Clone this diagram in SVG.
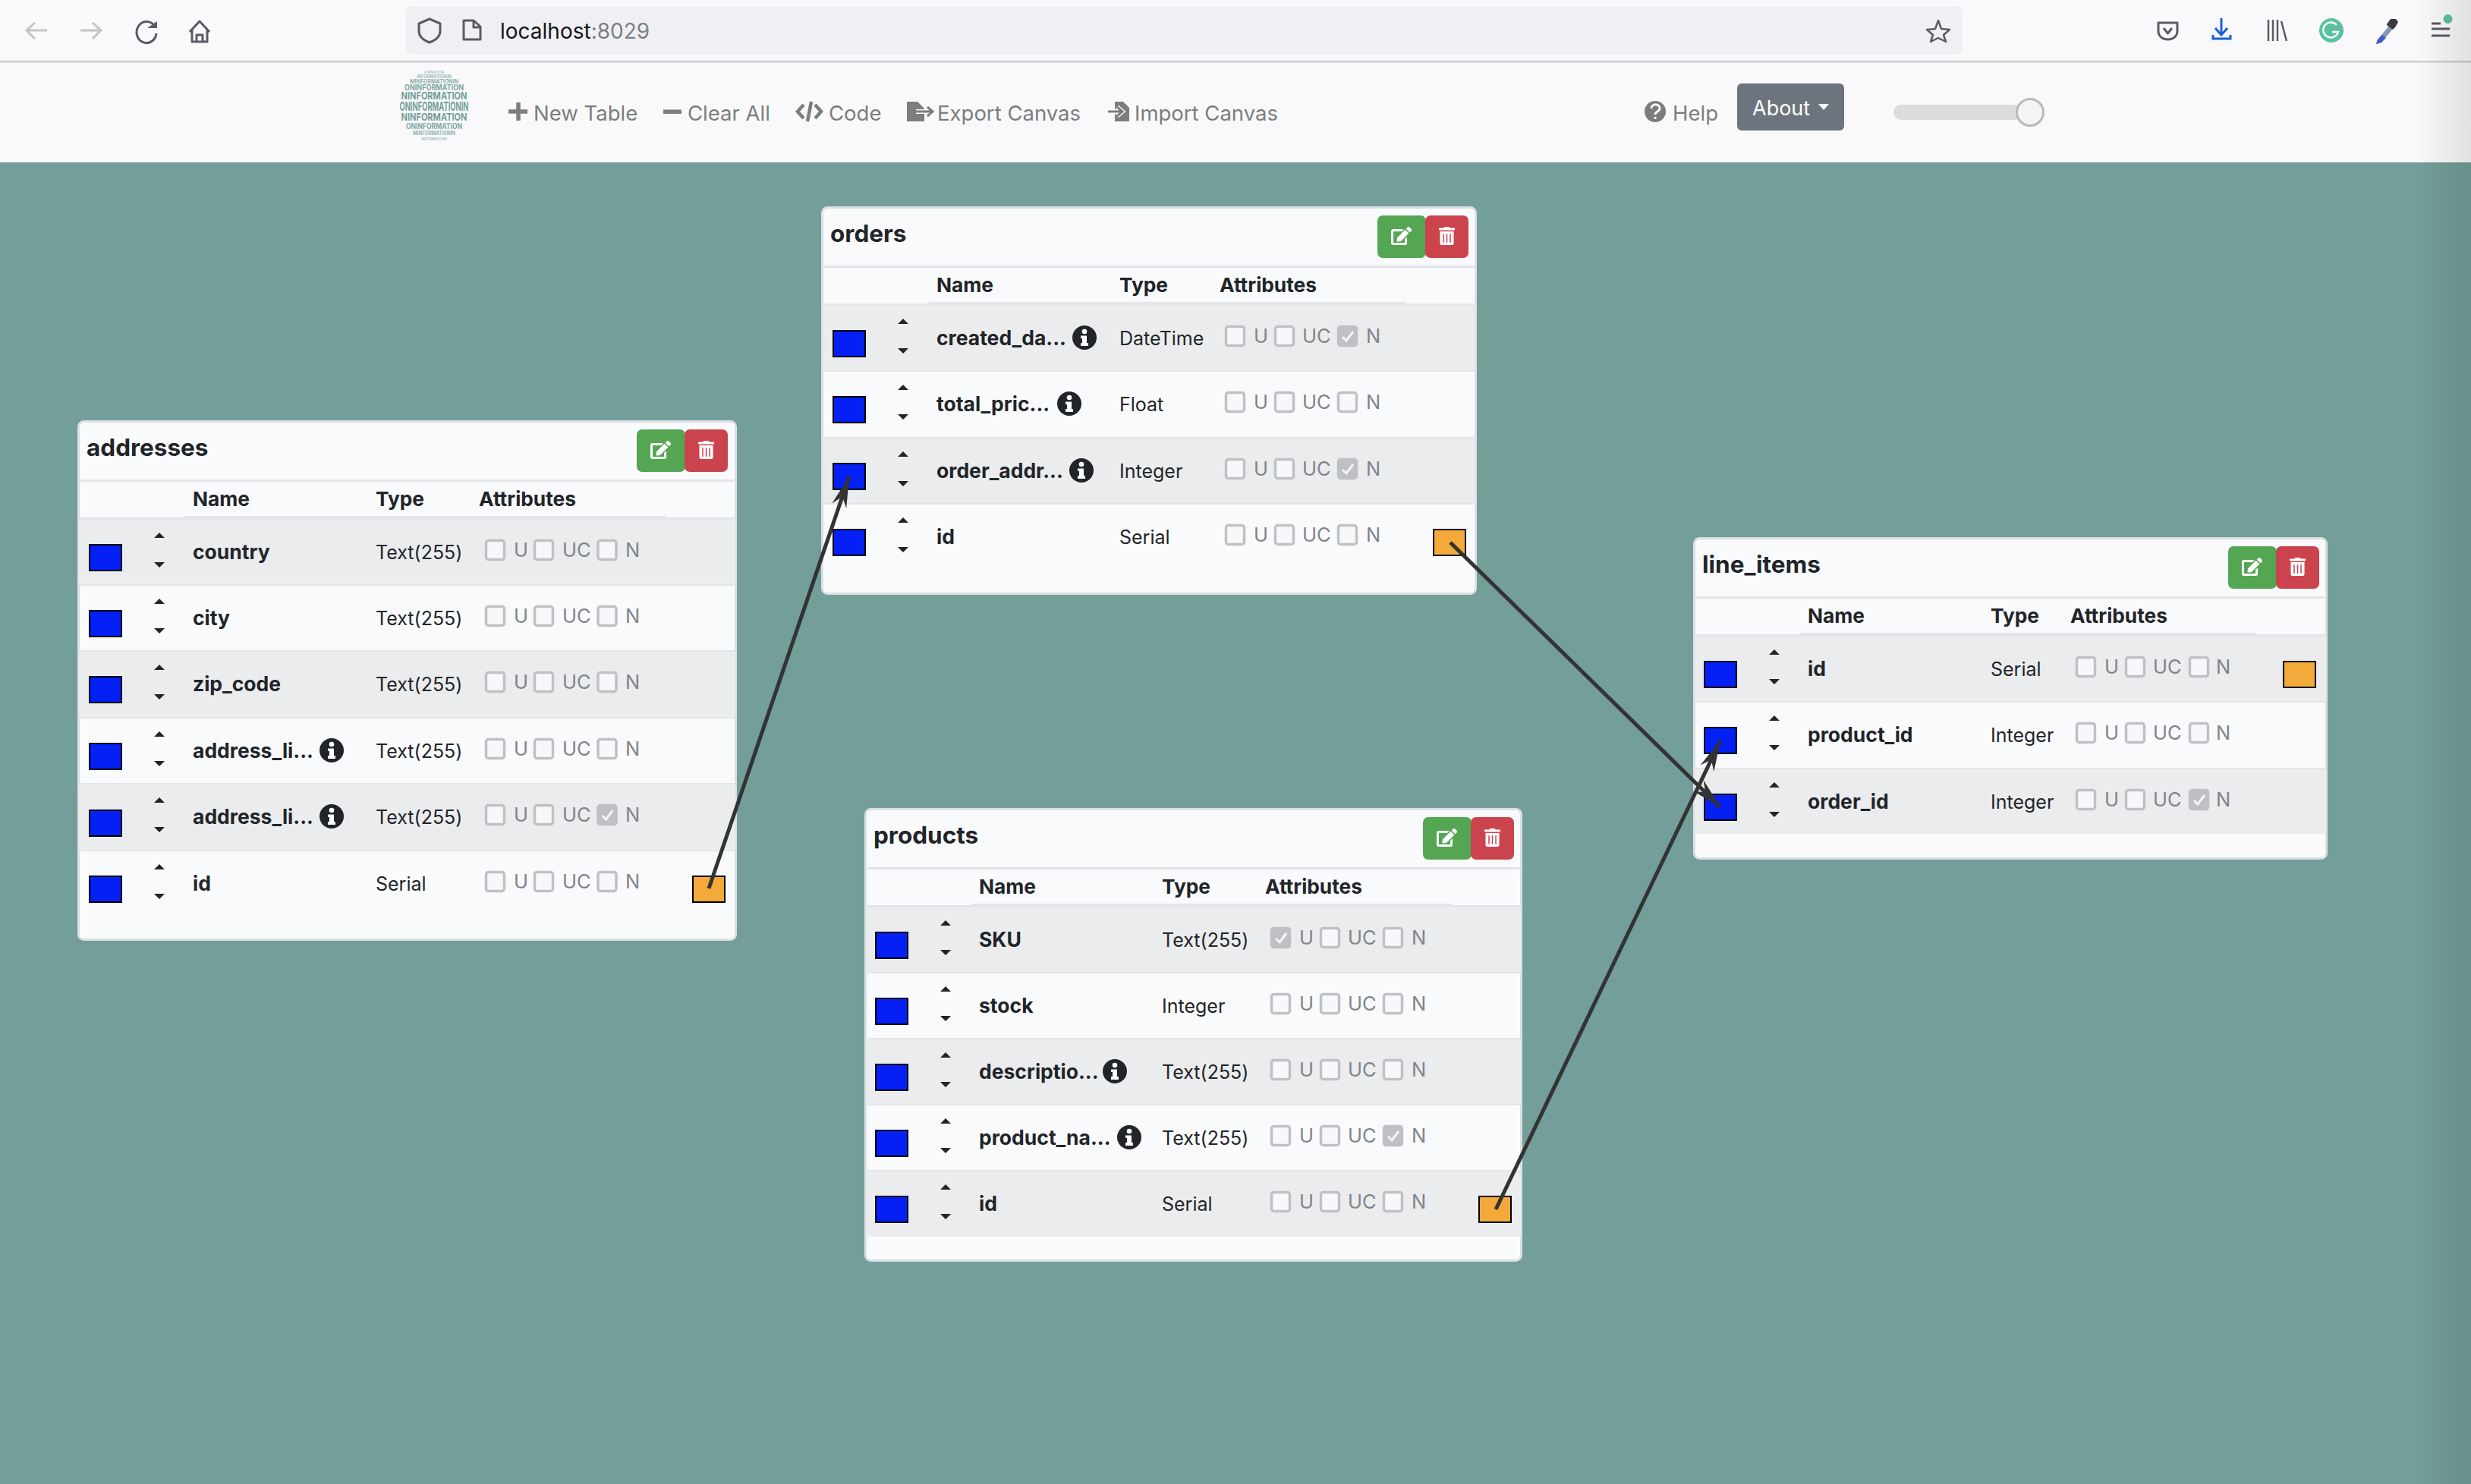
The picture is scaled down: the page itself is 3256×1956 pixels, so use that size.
<svg xmlns="http://www.w3.org/2000/svg" width="3256" height="1956" viewBox="0 0 3256 1956">
<style>
text{font-family:"Inter","Liberation Sans",sans-serif}
.title{font-size:31.500px;font-weight:700;fill:#212529}
.h{font-size:26.300px;font-weight:700;fill:#212529}
.n{font-size:26.500px;font-weight:700;fill:#212529}
.ty{font-size:25px;font-weight:400;fill:#212529}
.a{font-size:25.500px;fill:#7f858b}
.nav{font-size:27.500px;fill:#7c7d7e}
.card{fill:#f9fafc;stroke:#dcdfe3;stroke-width:3}
.st{fill:#ebecee}
.rl{fill:#e3e5ea}
.chr{fill:none;stroke:#5b5b66;stroke-width:3;stroke-linejoin:round}
.conn{stroke:#333;stroke-width:5;fill:none;marker-end:url(#arr)}
.cb{fill:#f7f8f9;stroke:#c0c1c6;stroke-width:3.500}
.lg{font-family:"Liberation Sans",sans-serif;font-weight:700;fill:#739e99}
</style>
<defs>
<marker id="arr" markerUnits="userSpaceOnUse" markerWidth="44" markerHeight="26" viewBox="-42 -13 44 26" refX="0" refY="0" orient="auto"><path d="M0,0 L-41,-10 L-28,0 L-41,10 Z" fill="#333"/></marker>
<g id="blue"><rect x="1" y="1" width="42" height="34" fill="#0420f5" stroke="#000" stroke-width="2"/></g>
<g id="orange"><rect x="1" y="1" width="42" height="34" fill="#f4a93b" stroke="#000" stroke-width="2"/></g>
<g id="carets"><path d="M-7,26 L0,19 L7,26 Z M-7,58 L7,58 L0,65 Z" fill="#212529"/></g>
<g id="info"><circle r="16" fill="#212529"/><path d="M-3.300,-8 a3.300,3.300 0 1 1 6.600,0 a3.300,3.300 0 1 1 -6.600,0Z M-5,-2.500 H3 V7 H5 V11 H-5 V7 H-3 V1 H-5Z" fill="#fff"/></g>
<g id="cb"><rect x="1.500" y="1.500" width="24" height="25" rx="3" class="cb"/></g>
<g id="cbc"><rect x="1.500" y="1.500" width="24" height="25" rx="3" fill="#bfc0c4" stroke="#bfc0c4" stroke-width="3.500"/><path d="M7,15 L12,20 L21,8" fill="none" stroke="#f4f5f6" stroke-width="3"/></g>
<g id="btns"><rect width="64" height="56" rx="7" fill="#54a653"/><rect x="63" width="57" height="56" rx="7" fill="#cb444d"/>
<path transform="translate(18,15) scale(.047)" fill="#fff" d="M402.6 83.2l90.2 90.2c3.8 3.8 3.8 10 0 13.8L274.4 405.6l-92.8 10.3c-12.4 1.4-22.9-9.1-21.5-21.5l10.3-92.8L388.8 83.2c3.8-3.8 10-3.8 13.8 0zm162-22.9l-48.8-48.8c-15.2-15.2-39.9-15.2-55.2 0l-35.4 35.4c-3.8 3.8-3.8 10 0 13.8l90.2 90.2c3.8 3.8 10 3.8 13.8 0l35.4-35.4c15.2-15.3 15.2-40 0-55.2zM384 346.2V448H64V128h229.8c3.2 0 6.2-1.3 8.5-3.5l40-40c7.6-7.6 2.2-20.5-8.5-20.5H48C21.5 64 0 85.5 0 112v352c0 26.5 21.5 48 48 48h352c26.5 0 48-21.5 48-48V306.2c0-10.7-12.9-16-20.5-8.5l-40 40c-2.2 2.3-3.5 5.3-3.5 8.5z"/>
<path transform="translate(81,15) scale(.047)" fill="#fff" d="M32 464a48 48 0 0 0 48 48h288a48 48 0 0 0 48-48V128H32zm272-256a16 16 0 0 1 32 0v224a16 16 0 0 1-32 0zm-96 0a16 16 0 0 1 32 0v224a16 16 0 0 1-32 0zm-96 0a16 16 0 0 1 32 0v224a16 16 0 0 1-32 0zM432 32H312l-9.4-18.7A24 24 0 0 0 281.1 0H166.8a23.72 23.72 0 0 0-21.4 13.3L136 32H16A16 16 0 0 0 0 48v32a16 16 0 0 0 16 16h416a16 16 0 0 0 16-16V48a16 16 0 0 0-16-16z"/></g>
<linearGradient id="edge" x1="0" x2="1" y1="0" y2="0"><stop offset="0" stop-color="#000" stop-opacity="0"/><stop offset="1" stop-color="#000" stop-opacity=".1"/></linearGradient>
</defs>

<rect width="3256" height="1956" fill="#739e99"/>
<g id="browser-chrome">
<rect width="3256" height="214" fill="#f9f9fb"/>
<rect y="80" width="3256" height="2.500" fill="#cfcfd2"/>
<rect x="535" y="8" width="2051" height="64" rx="8" fill="#f0f0f4"/>
<path d="M62,40 H36 M46,30 L35,40 L46,51" fill="none" stroke="#c4c4c8" stroke-width="3"/>
<path d="M106,40 H132 M122,30 L133,40 L122,51" fill="none" stroke="#c4c4c8" stroke-width="3"/>
<path d="M204,35 A13,14 0 1 0 206,44" class="chr"/><path d="M194,37 L207,37 L207,28 Z" fill="#5b5b66"/>
<path d="M250,42 L263,28 L276,42 M253,39 V55 H273 V39 M259,55 V46 H267 V55" class="chr"/>
<path d="M566,25 L580,31 V41 C580,48 574,53 566,56 C558,53 552,48 552,41 V31 Z" class="chr"/>
<path d="M611,27 H624 L633,35 V52 H611 Z M624,27 V36 H633" class="chr"/>
<text x="659" y="51" font-size="28" fill="#15141a">localhost<tspan fill="#7e7e84">:8029</tspan></text>
<path d="M2554,27 L2558,38 L2569,39 L2561,46 L2564,55 L2554,50 L2544,55 L2547,46 L2539,39 L2550,38 Z" fill="none" stroke="#5b5b66" stroke-width="2.500" stroke-linejoin="round"/>
<path d="M2844,30 H2869 V41 C2869,48 2863,52 2856.500,52 C2850,52 2844,48 2844,41 Z M2851,37 L2856.500,44 L2862,37" class="chr"/>
<path d="M2927,24 V46 M2919,37 L2927,46 L2935,37 M2916,46 V51 H2939 V46" fill="none" stroke="#1a5fd8" stroke-width="3"/>
<path d="M2989,26 V54 M2995,26 V54 M3001,26 V54 M3006,28 L3013,54" fill="none" stroke="#5b5b66" stroke-width="2.500"/>
<circle cx="3072" cy="40" r="16" fill="#5bc19f"/><path d="M3079,33 A10,10 0 1 0 3081,42 H3073" fill="none" stroke="#fff" stroke-width="2.500"/>
<path d="M3133,52 L3148,34 L3153,38 L3138,56 L3131,58 Z" fill="#8a93b8"/><path d="M3131,58 L3133,52 L3139,46 L3144,50 L3138,56 Z" fill="#3f5cc8"/><path d="M3145,32 L3150,25 L3157,25 L3160,29 L3156,36 L3153,39 L3145,33 Z" fill="#3a3a3e"/>
<path d="M3204,31 H3216 M3204,38 H3228 M3204,47 H3228" fill="none" stroke="#5b5b66" stroke-width="3"/><circle cx="3225.500" cy="25" r="6" fill="#5bc19f"/>
</g>
<rect x="3186" y="0" width="70" height="1956" fill="url(#edge)"/>
<g id="navbar">
<g id="logo" class="lg" text-anchor="middle">
<text x="572" y="97" font-size="4.500" textLength="26" lengthAdjust="spacingAndGlyphs" opacity=".55">FORMATION</text>
<text x="572" y="102.500" font-size="5.500" textLength="46" lengthAdjust="spacingAndGlyphs" opacity=".65">INFORMATIONIN</text>
<text x="572" y="109.500" font-size="7.500" textLength="64" lengthAdjust="spacingAndGlyphs" opacity=".8">MINFORMATIONIN</text>
<text x="572" y="119" font-size="10" textLength="78" lengthAdjust="spacingAndGlyphs" opacity=".9">ONINFORMATION</text>
<text x="572" y="131" font-size="13.500" textLength="87" lengthAdjust="spacingAndGlyphs">NINFORMATION</text>
<text x="572" y="145.500" font-size="16.500" textLength="91" lengthAdjust="spacingAndGlyphs">ONINFORMATIONIN</text>
<text x="572" y="159" font-size="13.500" textLength="87" lengthAdjust="spacingAndGlyphs">NINFORMATION</text>
<text x="572" y="170" font-size="10" textLength="74" lengthAdjust="spacingAndGlyphs" opacity=".9">ONINFORMATION</text>
<text x="572" y="178" font-size="7" textLength="56" lengthAdjust="spacingAndGlyphs" opacity=".75">MINFORMATIONIN</text>
<text x="572" y="184.500" font-size="5" textLength="34" lengthAdjust="spacingAndGlyphs" opacity=".6">INFORMATION</text>
</g>
<path d="M683,135 V159 M670,147 H695" stroke="#7c7d7e" stroke-width="5.500" fill="none"/>
<text x="703" y="158.500" class="nav">New Table</text>
<rect x="874" y="144.500" width="24" height="5.500" fill="#7c7d7e"/>
<text x="906" y="158.500" class="nav">Clear All</text>
<path d="M1059,138 L1051,147 L1059,156 M1074,138 L1082,147 L1074,156 M1069,134 L1064,160" fill="none" stroke="#7c7d7e" stroke-width="4.500"/>
<text x="1092" y="158.500" class="nav">Code</text>
<path d="M1195,134 H1209 L1218,143 V160 H1195 Z" fill="#7c7d7e"/><path d="M1207,147 H1228 M1222,141 L1229,147 L1222,153" fill="none" stroke="#f9f9fb" stroke-width="6"/><path d="M1207,147 H1228 M1222,141 L1229,147 L1222,153" fill="none" stroke="#7c7d7e" stroke-width="3"/>
<text x="1235" y="158.500" class="nav">Export Canvas</text>
<path d="M1469,134 H1480 L1488,142 V160 H1469 Z" fill="#7c7d7e"/><path d="M1460,147 H1478 M1472,141 L1479,147 L1472,153" fill="none" stroke="#f9f9fb" stroke-width="6"/><path d="M1460,147 H1478 M1472,141 L1479,147 L1472,153" fill="none" stroke="#7c7d7e" stroke-width="3"/>
<text x="1495" y="158.500" class="nav">Import Canvas</text>
<circle cx="2181" cy="147" r="14" fill="#7c7d7e"/><path d="M2176,143 C2176,136 2187,136 2187,143 C2187,147 2181,147 2181,151 M2181,154 V157" fill="none" stroke="#f9f9fb" stroke-width="3"/>
<text x="2204" y="158.500" class="nav">Help</text>
<g id="about"><rect x="2289" y="110" width="141" height="62" rx="6" fill="#6c757d"/><text x="2309" y="152" font-size="27" fill="#fff">About</text><path d="M2396,137 H2410 L2403,145 Z" fill="#fff"/></g>
<g id="slider"><rect x="2495" y="138" width="170" height="20" rx="10" fill="#dcdcdc"/><circle cx="2675" cy="148" r="17.500" fill="#f3f4f3" stroke="#b9b9b9" stroke-width="3"/></g>
</g>

<g id="table-addresses" transform="translate(102,554)">
<rect x="1.500" y="1.500" width="866" height="683" rx="7" class="card"/>
<text x="12" y="47" class="title">addresses</text>
<use href="#btns" x="737" y="12"/>
<rect x="2" y="78" width="865" height="3" class="rl"/>
<text x="152" y="113" class="h">Name</text><text x="393" y="113" class="h">Type</text><text x="529" y="113" class="h">Attributes</text>
<rect x="2" y="128" width="865" height="3" class="rl"/><rect x="142" y="126" width="633" height="4" class="rl"/>
<g transform="translate(0,129)"><rect x="2" y="2" width="865" height="85.500" class="st"/><use href="#blue" x="15" y="34"/><use href="#carets" x="108"/><text x="152" y="53.500" class="n">country</text><text x="393" y="53.500" class="ty">Text(255)</text><g transform="translate(537,28)"><use href="#cb"/><text x="38" y="23" class="a">U</text><use href="#cb" x="64"/><text x="102" y="23" class="a">UC</text><use href="#cb" x="147.500"/><text x="185" y="23" class="a">N</text></g></g>
<g transform="translate(0,216)"><rect x="2" width="865" height="2" class="rl"/><use href="#blue" x="15" y="34"/><use href="#carets" x="108"/><text x="152" y="53.500" class="n">city</text><text x="393" y="53.500" class="ty">Text(255)</text><g transform="translate(537,28)"><use href="#cb"/><text x="38" y="23" class="a">U</text><use href="#cb" x="64"/><text x="102" y="23" class="a">UC</text><use href="#cb" x="147.500"/><text x="185" y="23" class="a">N</text></g></g>
<g transform="translate(0,303)"><rect x="2" y="0" width="865" height="87.500" class="st"/><rect x="2" width="865" height="2" class="rl"/><use href="#blue" x="15" y="34"/><use href="#carets" x="108"/><text x="152" y="53.500" class="n">zip_code</text><text x="393" y="53.500" class="ty">Text(255)</text><g transform="translate(537,28)"><use href="#cb"/><text x="38" y="23" class="a">U</text><use href="#cb" x="64"/><text x="102" y="23" class="a">UC</text><use href="#cb" x="147.500"/><text x="185" y="23" class="a">N</text></g></g>
<g transform="translate(0,391)"><rect x="2" width="865" height="2" class="rl"/><use href="#blue" x="15" y="34"/><use href="#carets" x="108"/><text x="152" y="53.500" class="n">address_li...</text><use href="#info" x="335" y="44"/><text x="393" y="53.500" class="ty">Text(255)</text><g transform="translate(537,28)"><use href="#cb"/><text x="38" y="23" class="a">U</text><use href="#cb" x="64"/><text x="102" y="23" class="a">UC</text><use href="#cb" x="147.500"/><text x="185" y="23" class="a">N</text></g></g>
<g transform="translate(0,478)"><rect x="2" y="0" width="865" height="87.500" class="st"/><rect x="2" width="865" height="2" class="rl"/><use href="#blue" x="15" y="35"/><use href="#carets" x="108"/><text x="152" y="53.500" class="n">address_li...</text><use href="#info" x="335" y="44"/><text x="393" y="53.500" class="ty">Text(255)</text><g transform="translate(537,28)"><use href="#cb"/><text x="38" y="23" class="a">U</text><use href="#cb" x="64"/><text x="102" y="23" class="a">UC</text><use href="#cbc" x="147.500"/><text x="185" y="23" class="a">N</text></g></g>
<g transform="translate(0,566)"><rect x="2" width="865" height="2" class="rl"/><use href="#blue" x="15" y="34"/><use href="#carets" x="108"/><text x="152" y="53.500" class="n">id</text><text x="393" y="53.500" class="ty">Serial</text><g transform="translate(537,28)"><use href="#cb"/><text x="38" y="23" class="a">U</text><use href="#cb" x="64"/><text x="102" y="23" class="a">UC</text><use href="#cb" x="147.500"/><text x="185" y="23" class="a">N</text></g><use href="#orange" x="810" y="34"/></g>
</g>

<g id="table-orders" transform="translate(1082,272)">
<rect x="1.500" y="1.500" width="861" height="509" rx="7" class="card"/>
<text x="12" y="47" class="title">orders</text>
<use href="#btns" x="733" y="12"/>
<rect x="2" y="78" width="860" height="3" class="rl"/>
<text x="152" y="113" class="h">Name</text><text x="393" y="113" class="h">Type</text><text x="525" y="113" class="h">Attributes</text>
<rect x="2" y="128" width="860" height="3" class="rl"/><rect x="142" y="126" width="629" height="4" class="rl"/>
<g transform="translate(0,129)"><rect x="2" y="2" width="860" height="85.500" class="st"/><use href="#blue" x="15" y="34"/><use href="#carets" x="108"/><text x="152" y="53.500" class="n">created_da...</text><use href="#info" x="347" y="44"/><text x="393" y="53.500" class="ty">DateTime</text><g transform="translate(532,28)"><use href="#cb"/><text x="38" y="23" class="a">U</text><use href="#cb" x="65"/><text x="102" y="23" class="a">UC</text><use href="#cbc" x="148"/><text x="186" y="23" class="a">N</text></g></g>
<g transform="translate(0,216)"><rect x="2" width="860" height="2" class="rl"/><use href="#blue" x="15" y="34"/><use href="#carets" x="108"/><text x="152" y="53.500" class="n">total_pric...</text><use href="#info" x="327" y="44"/><text x="393" y="53.500" class="ty">Float</text><g transform="translate(532,28)"><use href="#cb"/><text x="38" y="23" class="a">U</text><use href="#cb" x="65"/><text x="102" y="23" class="a">UC</text><use href="#cb" x="148"/><text x="186" y="23" class="a">N</text></g></g>
<g transform="translate(0,304)"><rect x="2" width="860" height="87" class="st"/><rect x="2" width="860" height="2" class="rl"/><use href="#blue" x="15" y="34"/><use href="#carets" x="108"/><text x="152" y="53.500" class="n">order_addr...</text><use href="#info" x="343" y="44"/><text x="393" y="53.500" class="ty">Integer</text><g transform="translate(532,28)"><use href="#cb"/><text x="38" y="23" class="a">U</text><use href="#cb" x="65"/><text x="102" y="23" class="a">UC</text><use href="#cbc" x="148"/><text x="186" y="23" class="a">N</text></g></g>
<g transform="translate(0,391)"><rect x="2" width="860" height="2" class="rl"/><use href="#blue" x="15" y="34"/><use href="#carets" x="108"/><text x="152" y="53.500" class="n">id</text><text x="393" y="53.500" class="ty">Serial</text><g transform="translate(532,28)"><use href="#cb"/><text x="38" y="23" class="a">U</text><use href="#cb" x="65"/><text x="102" y="23" class="a">UC</text><use href="#cb" x="148"/><text x="186" y="23" class="a">N</text></g><use href="#orange" x="806" y="34"/></g>
</g>

<g id="table-products" transform="translate(1139,1065)">
<rect x="1.500" y="1.500" width="864" height="595" rx="7" class="card"/>
<text x="12" y="47" class="title">products</text>
<use href="#btns" x="736" y="12"/>
<rect x="2" y="78" width="863" height="3" class="rl"/>
<text x="151" y="113" class="h">Name</text><text x="392" y="113" class="h">Type</text><text x="528" y="113" class="h">Attributes</text>
<rect x="2" y="128" width="863" height="3" class="rl"/><rect x="141" y="126" width="633" height="4" class="rl"/>
<g transform="translate(0,129)"><rect x="2" y="2" width="863" height="85.500" class="st"/><use href="#blue" x="14" y="34"/><use href="#carets" x="107"/><text x="151" y="53.500" class="n">SKU</text><text x="392" y="53.500" class="ty">Text(255)</text><g transform="translate(535,28)"><use href="#cbc"/><text x="38" y="23" class="a">U</text><use href="#cb" x="65"/><text x="102" y="23" class="a">UC</text><use href="#cb" x="148"/><text x="186" y="23" class="a">N</text></g></g>
<g transform="translate(0,216)"><rect x="2" width="863" height="2" class="rl"/><use href="#blue" x="14" y="34"/><use href="#carets" x="107"/><text x="151" y="53.500" class="n">stock</text><text x="392" y="53.500" class="ty">Integer</text><g transform="translate(535,28)"><use href="#cb"/><text x="38" y="23" class="a">U</text><use href="#cb" x="65"/><text x="102" y="23" class="a">UC</text><use href="#cb" x="148"/><text x="186" y="23" class="a">N</text></g></g>
<g transform="translate(0,303)"><rect x="2" width="863" height="87" class="st"/><rect x="2" width="863" height="2" class="rl"/><use href="#blue" x="14" y="34"/><use href="#carets" x="107"/><text x="151" y="53.500" class="n">descriptio...</text><use href="#info" x="330" y="44"/><text x="392" y="53.500" class="ty">Text(255)</text><g transform="translate(535,28)"><use href="#cb"/><text x="38" y="23" class="a">U</text><use href="#cb" x="65"/><text x="102" y="23" class="a">UC</text><use href="#cb" x="148"/><text x="186" y="23" class="a">N</text></g></g>
<g transform="translate(0,390)"><rect x="2" width="863" height="2" class="rl"/><use href="#blue" x="14" y="34"/><use href="#carets" x="107"/><text x="151" y="53.500" class="n">product_na...</text><use href="#info" x="349" y="44"/><text x="392" y="53.500" class="ty">Text(255)</text><g transform="translate(535,28)"><use href="#cb"/><text x="38" y="23" class="a">U</text><use href="#cb" x="65"/><text x="102" y="23" class="a">UC</text><use href="#cbc" x="148"/><text x="186" y="23" class="a">N</text></g></g>
<g transform="translate(0,477)"><rect x="2" width="863" height="88" class="st"/><rect x="2" width="863" height="2" class="rl"/><use href="#blue" x="14" y="34"/><use href="#carets" x="107"/><text x="151" y="53.500" class="n">id</text><text x="392" y="53.500" class="ty">Serial</text><g transform="translate(535,28)"><use href="#cb"/><text x="38" y="23" class="a">U</text><use href="#cb" x="65"/><text x="102" y="23" class="a">UC</text><use href="#cb" x="148"/><text x="186" y="23" class="a">N</text></g><use href="#orange" x="809" y="34"/></g>
</g>

<g id="table-line_items" transform="translate(2231,708)">
<rect x="1.500" y="1.500" width="833" height="422" rx="7" class="card"/>
<text x="12" y="47" class="title">line_items</text>
<use href="#btns" x="705" y="12"/>
<rect x="2" y="78" width="832" height="3" class="rl"/>
<text x="151" y="113" class="h">Name</text><text x="392" y="113" class="h">Type</text><text x="497" y="113" class="h">Attributes</text>
<rect x="2" y="128" width="832" height="3" class="rl"/><rect x="141" y="126" width="601" height="4" class="rl"/>
<g transform="translate(0,129)"><rect x="2" y="2" width="832" height="85" class="st"/><use href="#blue" x="14" y="34"/><use href="#carets" x="107"/><text x="151" y="53.500" class="n">id</text><text x="392" y="53.500" class="ty">Serial</text><g transform="translate(504,28)"><use href="#cb"/><text x="38" y="23" class="a">U</text><use href="#cb" x="65"/><text x="102" y="23" class="a">UC</text><use href="#cb" x="149"/><text x="185" y="23" class="a">N</text></g><use href="#orange" x="777" y="34"/></g>
<g transform="translate(0,216)"><rect x="2" width="832" height="2" class="rl"/><use href="#blue" x="14" y="34"/><use href="#carets" x="107"/><text x="151" y="53.500" class="n">product_id</text><text x="392" y="53.500" class="ty">Integer</text><g transform="translate(504,28)"><use href="#cb"/><text x="38" y="23" class="a">U</text><use href="#cb" x="65"/><text x="102" y="23" class="a">UC</text><use href="#cb" x="149"/><text x="185" y="23" class="a">N</text></g></g>
<g transform="translate(0,304)"><rect x="2" width="832" height="87" class="st"/><rect x="2" width="832" height="2" class="rl"/><use href="#blue" x="14" y="34"/><use href="#carets" x="107"/><text x="151" y="53.500" class="n">order_id</text><text x="392" y="53.500" class="ty">Integer</text><g transform="translate(504,28)"><use href="#cb"/><text x="38" y="23" class="a">U</text><use href="#cb" x="65"/><text x="102" y="23" class="a">UC</text><use href="#cbc" x="149"/><text x="185" y="23" class="a">N</text></g></g>
</g>

<g id="connectors">
<line class="conn" x1="934" y1="1171" x2="1119" y2="628"/>
<line class="conn" x1="1911" y1="715" x2="2267" y2="1064"/>
<line class="conn" x1="1971" y1="1594" x2="2267" y2="976"/>
</g>
</svg>
